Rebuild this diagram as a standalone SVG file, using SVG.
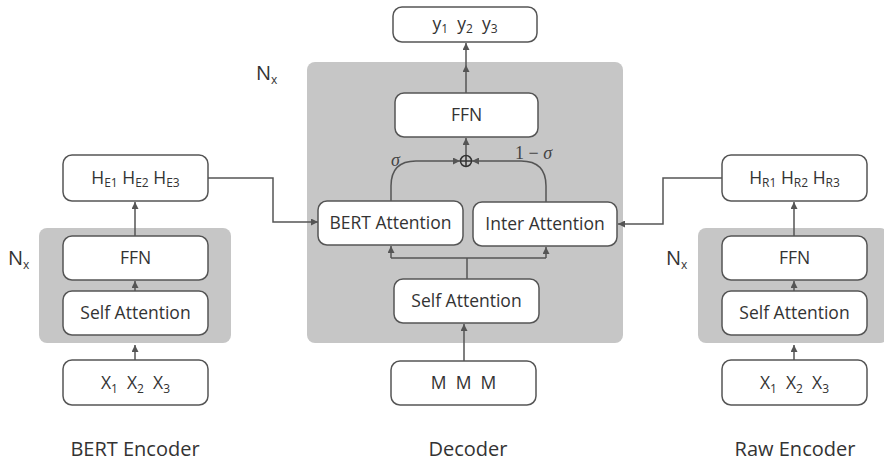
<svg xmlns="http://www.w3.org/2000/svg" width="884" height="463" viewBox="0 0 884 463">
<defs>
<marker id="ah" viewBox="0 0 10 10" refX="10" refY="5" markerWidth="7" markerHeight="7" orient="auto" markerUnits="userSpaceOnUse">
<path d="M0,0 L10,5 L0,10 z" fill="#555"/>
</marker>
</defs>
<style>
.bg{fill:#c6c6c6;}
.box{fill:#fff;stroke:#555;stroke-width:1.5;}
.t{font-family:"Open Sans","Noto Sans",sans-serif;font-size:17.5px;fill:#333;text-anchor:middle;white-space:pre;}
.lbl{font-family:"Open Sans","Noto Sans",sans-serif;font-size:20px;fill:#333;text-anchor:middle;}
.nx{font-family:"Open Sans","Noto Sans",sans-serif;font-size:20px;fill:#333;}
.sub{font-size:12px;}
.c{fill:none;stroke:#555;stroke-width:1.5;}
.m{font-family:"Liberation Serif","DejaVu Serif",serif;font-size:18px;fill:#444;white-space:pre;}
</style>
<!-- background blocks -->
<g id="bert-encoder-block"><rect class="bg" x="39" y="228" width="192" height="115" rx="8"/></g>
<g id="decoder-block"><rect class="bg" x="307" y="62" width="316" height="281" rx="8"/></g>
<g id="raw-encoder-block"><rect class="bg" x="698" y="228" width="190" height="115" rx="8"/></g>

<g id="connectors">
<path class="c" d="M135,360 V345" marker-end="url(#ah)"/>
<path class="c" d="M135,291 V281" marker-end="url(#ah)"/>
<path class="c" d="M135,236 V202" marker-end="url(#ah)"/>
<path class="c" d="M208,178 H273 V222 H318" marker-end="url(#ah)"/>
<path class="c" d="M794,360 V345" marker-end="url(#ah)"/>
<path class="c" d="M794,291 V281" marker-end="url(#ah)"/>
<path class="c" d="M794,236 V202" marker-end="url(#ah)"/>
<path class="c" d="M722,178 H663 V224 H618" marker-end="url(#ah)"/>
<path class="c" d="M464,361 V324" marker-end="url(#ah)"/>
<path class="c" d="M467,279 V258"/>
<path class="c" d="M391,258 H546"/>
<path class="c" d="M391,258 V246" marker-end="url(#ah)"/>
<path class="c" d="M546,258 V247" marker-end="url(#ah)"/>
<path class="c" d="M391,201 V186 Q391,161 416,161 H460" marker-end="url(#ah)"/>
<path class="c" d="M546,202 V186 Q546,161 521,161 H472" marker-end="url(#ah)"/>
<path class="c" d="M466,155 V138" marker-end="url(#ah)"/>
<path class="c" d="M466,93 V65" marker-end="url(#ah)"/>
<path class="c" d="M466,65 V43" marker-end="url(#ah)"/>
<circle cx="466" cy="161" r="5.5" fill="none" stroke="#333" stroke-width="1.5"/>
<path d="M460.5,161 H471.5 M466,155.5 V166.5" stroke="#333" stroke-width="1.5"/>
</g>

<!-- BERT encoder -->
<g id="he"><rect class="box" x="63" y="155" width="145" height="46" rx="9"/>
<text class="t" x="135.5" y="184">H<tspan class="sub" dy="3">E1</tspan><tspan dy="-3"> H</tspan><tspan class="sub" dy="3">E2</tspan><tspan dy="-3"> H</tspan><tspan class="sub" dy="3">E3</tspan></text></g>
<g id="bert-ffn"><rect class="box" x="63" y="236" width="145" height="44" rx="9"/><text class="t" x="135.5" y="264">FFN</text></g>
<g id="bert-sa"><rect class="box" x="63" y="291" width="145" height="44" rx="9"/><text class="t" x="135.5" y="319">Self Attention</text></g>
<g id="bert-x"><rect class="box" x="63" y="360" width="145" height="45" rx="9"/>
<text class="t" x="135.5" y="389">X<tspan class="sub" dy="4">1</tspan><tspan dy="-4">  X</tspan><tspan class="sub" dy="4">2</tspan><tspan dy="-4">  X</tspan><tspan class="sub" dy="4">3</tspan></text></g>
<g id="bert-nx"><text class="nx" x="8" y="265">N<tspan class="sub" dy="4">x</tspan></text></g>
<g id="bert-label"><text class="lbl" x="135" y="456">BERT Encoder</text></g>

<!-- Decoder -->
<g id="y"><rect class="box" x="393" y="7" width="144" height="35" rx="9"/>
<text class="t" x="465" y="30">y<tspan class="sub" dy="3">1</tspan><tspan dy="-3">  y</tspan><tspan class="sub" dy="3">2</tspan><tspan dy="-3">  y</tspan><tspan class="sub" dy="3">3</tspan></text></g>
<g id="dec-ffn"><rect class="box" x="395" y="93" width="143" height="44" rx="9"/><text class="t" x="466.5" y="121">FFN</text></g>
<g id="bert-att"><rect class="box" x="318" y="201" width="145" height="44" rx="9"/><text class="t" x="390.5" y="229">BERT Attention</text></g>
<g id="inter-att"><rect class="box" x="473" y="202" width="144" height="44" rx="9"/><text class="t" x="545" y="230">Inter Attention</text></g>
<g id="dec-sa"><rect class="box" x="394" y="279" width="145" height="44" rx="9"/><text class="t" x="466.5" y="307">Self Attention</text></g>
<g id="m"><rect class="box" x="391" y="361" width="145" height="44" rx="9"/><text class="t" x="463.5" y="389">M  M  M</text></g>
<g id="dec-nx"><text class="nx" x="256" y="80">N<tspan class="sub" dy="4">x</tspan></text></g>
<g id="sigma"><text class="m" x="391" y="166" font-style="italic">σ</text></g>
<g id="one-minus-sigma"><text class="m" x="515" y="159">1 − <tspan font-style="italic">σ</tspan></text></g>
<g id="dec-label"><text class="lbl" x="468" y="456">Decoder</text></g>

<!-- Raw encoder -->
<g id="hr"><rect class="box" x="722" y="155" width="145" height="46" rx="9"/>
<text class="t" x="794.5" y="184">H<tspan class="sub" dy="3">R1</tspan><tspan dy="-3"> H</tspan><tspan class="sub" dy="3">R2</tspan><tspan dy="-3"> H</tspan><tspan class="sub" dy="3">R3</tspan></text></g>
<g id="raw-ffn"><rect class="box" x="722" y="236" width="145" height="44" rx="9"/><text class="t" x="794.5" y="264">FFN</text></g>
<g id="raw-sa"><rect class="box" x="722" y="291" width="145" height="44" rx="9"/><text class="t" x="794.5" y="319">Self Attention</text></g>
<g id="raw-x"><rect class="box" x="722" y="360" width="145" height="45" rx="9"/>
<text class="t" x="794.5" y="389">X<tspan class="sub" dy="4">1</tspan><tspan dy="-4">  X</tspan><tspan class="sub" dy="4">2</tspan><tspan dy="-4">  X</tspan><tspan class="sub" dy="4">3</tspan></text></g>
<g id="raw-nx"><text class="nx" x="666" y="265">N<tspan class="sub" dy="4">x</tspan></text></g>
<g id="raw-label"><text class="lbl" x="795" y="456">Raw Encoder</text></g>
</svg>
